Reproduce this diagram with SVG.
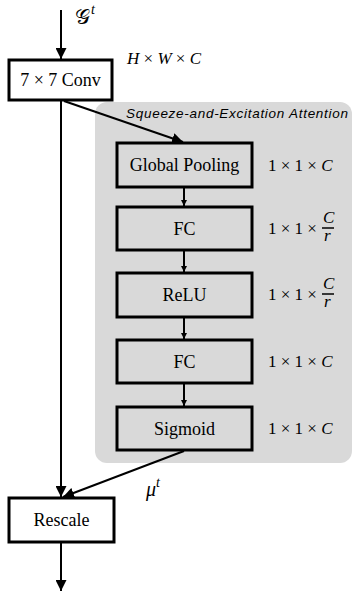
<svg xmlns="http://www.w3.org/2000/svg" width="354" height="597" viewBox="0 0 354 597">
<style>
.box{fill:#fff;stroke:#000;stroke-width:3}
.gbox{fill:#d9d9d9;stroke:#000;stroke-width:3}
.lbl{font-family:"Liberation Serif",serif;font-size:18px;fill:#000;text-anchor:middle}
.math{font-family:"Liberation Serif",serif;font-size:17px;fill:#000}
.it{font-style:italic}
.edge{stroke:#000;stroke-width:2;fill:none}
</style>
<defs>
<marker id="ah" viewBox="0 0 10 10" refX="10" refY="5" markerWidth="6" markerHeight="6" markerUnits="userSpaceOnUse" orient="auto">
<path d="M0,0 L10,5 L0,10 z" fill="#000"/>
</marker>
<marker id="ahs" viewBox="0 0 10 10" refX="10" refY="5" markerWidth="11" markerHeight="11" markerUnits="userSpaceOnUse" orient="auto">
<path d="M0,0 L10,5 L0,10 z" fill="#000"/>
</marker>
</defs>
<rect id="se-panel" x="95" y="102" width="257" height="361" rx="12" fill="#d9d9d9"/>
<text x="126" y="118" font-family="Liberation Sans,Arial,sans-serif" font-style="italic" font-size="13.5" textLength="222">Squeeze-and-Excitation Attention</text>
<g id="connectors">
<line class="edge" x1="61" y1="10" x2="61" y2="59" marker-end="url(#ahs)"/>
<line class="edge" x1="61" y1="101" x2="61" y2="497" marker-end="url(#ahs)"/>
<line class="edge" x1="64" y1="101" x2="183" y2="142" marker-end="url(#ahs)"/>
<line class="edge" x1="184" y1="188" x2="184" y2="206" marker-end="url(#ah)"/>
<line class="edge" x1="184" y1="251" x2="184" y2="272" marker-end="url(#ah)"/>
<line class="edge" x1="184" y1="318" x2="184" y2="339" marker-end="url(#ah)"/>
<line class="edge" x1="184" y1="384" x2="184" y2="406" marker-end="url(#ah)"/>
<line class="edge" x1="184" y1="451" x2="63" y2="497" marker-end="url(#ahs)"/>
<line class="edge" x1="61" y1="543" x2="61" y2="591" marker-end="url(#ahs)"/>
</g>
<g id="input-label">
<text x="75" y="24" font-family="DejaVu Sans,serif" font-size="21">𝒢</text>
<text x="91" y="14" font-family="Liberation Serif,serif" font-style="italic" font-size="14">t</text>
</g>
<g id="conv">
<rect class="box" x="9" y="60" width="103" height="40"/>
<text class="lbl" x="60.5" y="86">7 × 7 Conv</text>
<text class="math" x="127" y="64"><tspan class="it">H</tspan> × <tspan class="it">W</tspan> × <tspan class="it">C</tspan></text>
</g>
<g id="global-pooling">
<rect class="gbox" x="117" y="143" width="135" height="44"/>
<text class="lbl" x="184.5" y="171">Global Pooling</text>
<text class="math" x="268" y="171">1 × 1 × <tspan class="it">C</tspan></text>
</g>
<g id="fc1">
<rect class="gbox" x="117" y="207" width="135" height="43"/>
<text class="lbl" x="184.5" y="234.5">FC</text>
<text class="math" x="268" y="234">1 × 1 ×</text>
<text class="math it" x="323" y="223">C</text>
<line x1="322" y1="228" x2="334" y2="228" stroke="#000" stroke-width="1.5"/>
<text class="math it" x="324" y="241">r</text>
</g>
<g id="relu">
<rect class="gbox" x="117" y="273" width="135" height="44"/>
<text class="lbl" x="184.5" y="301">ReLU</text>
<text class="math" x="268" y="300">1 × 1 ×</text>
<text class="math it" x="323" y="289">C</text>
<line x1="322" y1="294" x2="334" y2="294" stroke="#000" stroke-width="1.5"/>
<text class="math it" x="324" y="307">r</text>
</g>
<g id="fc2">
<rect class="gbox" x="117" y="340" width="135" height="43"/>
<text class="lbl" x="184.5" y="367.5">FC</text>
<text class="math" x="268" y="367">1 × 1 × <tspan class="it">C</tspan></text>
</g>
<g id="sigmoid">
<rect class="gbox" x="117" y="407" width="135" height="43"/>
<text class="lbl" x="184.5" y="434.5">Sigmoid</text>
<text class="math" x="268" y="434">1 × 1 × <tspan class="it">C</tspan></text>
</g>
<g id="mu-label">
<text x="146" y="496" font-family="Liberation Serif,serif" font-style="italic" font-size="20">μ<tspan dy="-9" font-size="14">t</tspan></text>
</g>
<g id="rescale">
<rect class="box" x="9" y="498" width="105" height="44"/>
<text class="lbl" x="61.5" y="526">Rescale</text>
</g>
</svg>
